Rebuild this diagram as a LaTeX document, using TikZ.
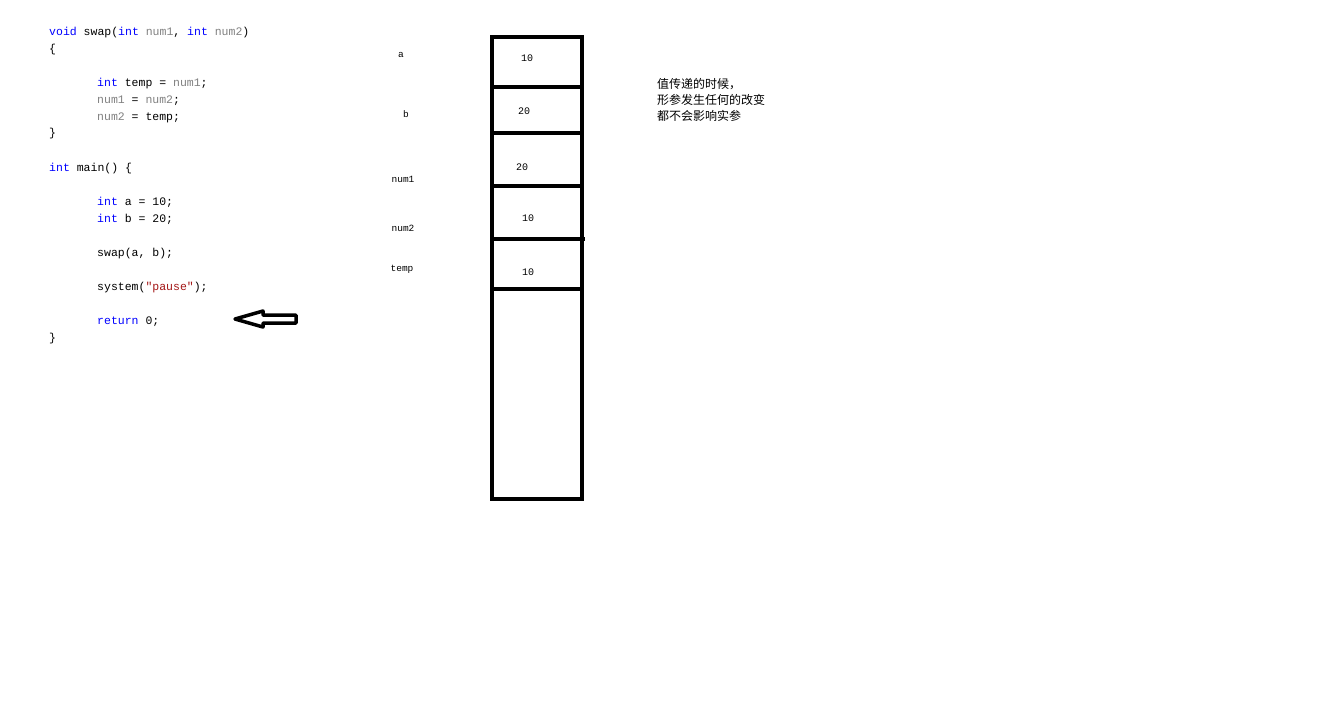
\documentclass[tikz,border=0pt]{standalone}
\usepackage{fontspec}
\setmonofont{Liberation Mono}
\newfontfamily\cjk{Noto Sans CJK SC}
\definecolor{kw}{RGB}{0,0,255}
\definecolor{idg}{RGB}{128,128,128}
\definecolor{strr}{RGB}{163,21,21}
\begin{document}
\begin{tikzpicture}[x=1pt,y=-1pt,
  code/.style={anchor=base west,inner sep=0pt,font=\ttfamily\fontsize{11.5}{13}\selectfont},
  lbl/.style={inner sep=0pt,font=\ttfamily\fontsize{9.5}{11}\selectfont},
  val/.style={inner sep=0pt,font=\ttfamily\fontsize{10}{11}\selectfont},
  note/.style={anchor=base west,inner sep=0pt,font=\cjk\fontsize{12}{14}\selectfont},
  cell/.style={line width=4pt},
  hollowarrow/.style={line width=3.5pt,line join=round}]
\useasboundingbox (0,0) rectangle (1335,721);
% code
\node[code] (c1) at (49,35) {\textcolor{kw}{void} swap(\textcolor{kw}{int} \textcolor{idg}{num1}, \textcolor{kw}{int} \textcolor{idg}{num2})};
\node[code] (c2) at (49,52) {\{};
\node[code] (c3) at (97,86) {\textcolor{kw}{int} temp = \textcolor{idg}{num1};};
\node[code] (c4) at (97,103) {\textcolor{idg}{num1} = \textcolor{idg}{num2};};
\node[code] (c5) at (97,120) {\textcolor{idg}{num2} = temp;};
\node[code] (c6) at (49,136) {\}};
\node[code] (c7) at (49,171) {\textcolor{kw}{int} main() \{};
\node[code] (c8) at (97,205) {\textcolor{kw}{int} a = 10;};
\node[code] (c9) at (97,222) {\textcolor{kw}{int} b = 20;};
\node[code] (c10) at (97,256) {swap(a, b);};
\node[code] (c11) at (97,290) {system(\textcolor{strr}{"pause"});};
\node[code] (c12) at (97,324) {\textcolor{kw}{return} 0;};
\node[code] (c13) at (49,341) {\}};
% arrow
\draw[hollowarrow] (296,315) -- (263,315) -- (263,311) -- (235,319) -- (263,327) -- (263,323) -- (296,323) -- cycle;
% memory column
\draw[cell] (492,37) rectangle (582,499);
\draw[cell] (492,87) -- (582,87);
\draw[cell] (492,133) -- (582,133);
\draw[cell] (492,186) -- (580,186);
\draw[cell] (492,239) -- (585,239);
\draw[cell] (492,289) -- (580,289);
% labels
\node[lbl] (la) at (401,55) {a};
\node[lbl] (lb) at (406,114) {b};
\node[lbl] (ln1) at (403,179) {num1};
\node[lbl] (ln2) at (403,228) {num2};
\node[lbl] (lt) at (402,269) {temp};
% values
\node[val] (v1) at (527,58) {10};
\node[val] (v2) at (524,111) {20};
\node[val] (v3) at (522,167) {20};
\node[val] (v4) at (528,218) {10};
\node[val] (v5) at (528,272) {10};
% note
\node[note] (n1) at (657,88) {值传递的时候，};
\node[note] (n2) at (657,104) {形参发生任何的改变};
\node[note] (n3) at (657,120) {都不会影响实参};
\end{tikzpicture}
\end{document}
